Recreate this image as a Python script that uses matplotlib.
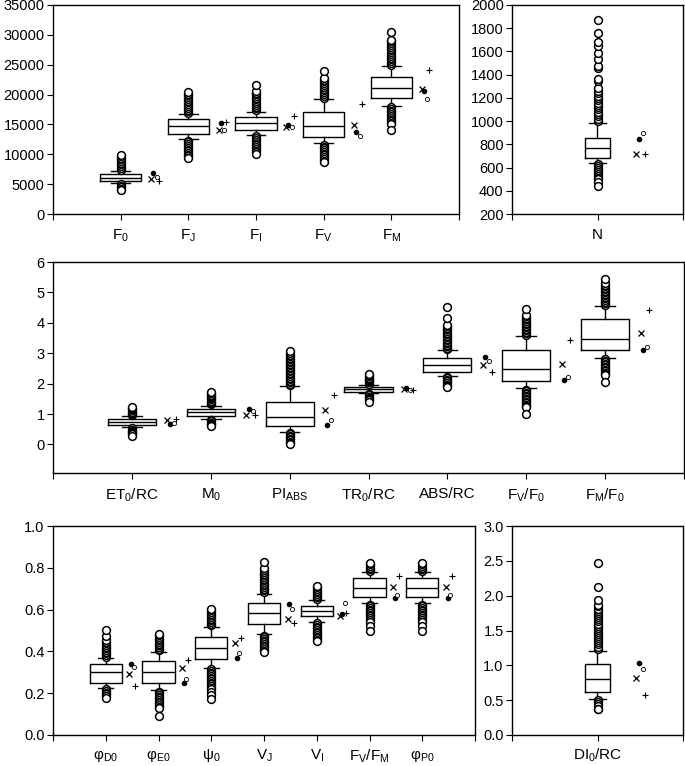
import matplotlib
matplotlib.use('Agg')
import matplotlib.pyplot as plt

plt.rcParams['font.family'] = ['Liberation Sans', 'DejaVu Sans']
plt.rcParams['mathtext.default'] = 'regular'

# ---- top left: fluorescence levels
fl_labels = ['F$_0$', 'F$_J$', 'F$_I$', 'F$_V$', 'F$_M$']
fl_q1 = [5556, 13444, 14000, 12889, 19444]
fl_med = [6111, 14667, 15167, 14778, 21056]
fl_q3 = [6778, 15833, 16167, 17111, 22944]
fl_wlo = [5111, 12611, 13222, 11833, 18167]
fl_whi = [7222, 16667, 17111, 19278, 24722]
fl_out_hi = [
    [7400, 7700, 8000, 8300, 8600, 8900, 9150, 9400, 9650, 9850],
    [16900, 17200, 17500, 17800, 18100, 18400, 18700, 19000, 19300, 19600, 19850, 20100, 20350],
    [17400, 17700, 18000, 18300, 18600, 18900, 19200, 19500, 19800, 20050, 20300, 20550, 21650],
    [19500, 19800, 20100, 20400, 20700, 21000, 21300, 21600, 21900, 22200, 22500, 22800, 23900],
    [25000, 25300, 25600, 25900, 26200, 26500, 26800, 27100, 27400, 27700, 28000, 28300, 28600, 28900, 29150, 30400],
]
fl_out_lo = [
    [5000, 4750, 4500, 4250, 4000],
    [12300, 12000, 11700, 11400, 11100, 10800, 10500, 10200, 9900, 9700, 9450],
    [13000, 12700, 12400, 12100, 11800, 11500, 11200, 10900, 10600, 10300, 10050],
    [11600, 11300, 11000, 10700, 10400, 10100, 9800, 9500, 9200, 8950, 8780],
    [17900, 17600, 17300, 17000, 16700, 16400, 16100, 15800, 15500, 15250, 15000, 14050],
]
fl_x = [5944, 14000, 14556, 14944, 20944]
fl_dot = [6833, 15222, 14944, 13778, 20611]
fl_o = [6222, 14000, 14611, 13056, 19333]
fl_plus = [5556, 15389, 16444, 18444, 24056]

# ---- top right: N
n_labels = ['N']
n_q1 = [680]
n_med = [766]
n_q3 = [851]
n_wlo = [643]
n_whi = [986]
n_out_hi = [[1000, 1020, 1040, 1060, 1080, 1100, 1120, 1140, 1160, 1180, 1200, 1220, 1240, 1260, 1285,
             1343, 1363, 1457, 1471, 1534, 1586, 1643, 1680, 1757, 1871]]
n_out_lo = [[630, 612, 595, 578, 561, 544, 527, 510, 500, 474, 445]]
n_x = [720]
n_dot = [843]
n_o = [894]
n_plus = [717]

# ---- middle: specific fluxes
sf_labels = ['ET$_0$/RC', 'M$_0$', 'PI$_{ABS}$', 'TR$_0$/RC', 'ABS/RC', 'F$_V$/F$_0$', 'F$_M$/F$_0$']
sf_q1 = [0.65, 0.94, 0.60, 1.74, 2.38, 2.09, 3.09]
sf_med = [0.73, 1.07, 0.90, 1.81, 2.62, 2.47, 3.46]
sf_q3 = [0.84, 1.18, 1.41, 1.89, 2.85, 3.10, 4.11]
sf_wlo = [0.57, 0.84, 0.42, 1.69, 2.26, 1.84, 2.84]
sf_whi = [0.92, 1.28, 1.92, 1.96, 3.09, 3.57, 4.56]
sf_out_hi = [
    [0.96, 1.0, 1.04, 1.08, 1.12, 1.16, 1.2, 1.24],
    [1.32, 1.36, 1.40, 1.44, 1.48, 1.52, 1.56, 1.60, 1.64, 1.68, 1.73],
    [1.96, 2.0, 2.05, 2.1, 2.15, 2.2, 2.25, 2.3, 2.35, 2.4, 2.45, 2.5, 2.55, 2.6, 2.65, 2.7, 2.75,
     2.8, 2.85, 2.9, 2.95, 3.0, 3.06],
    [2.0, 2.04, 2.08, 2.12, 2.16, 2.2, 2.24, 2.28, 2.32],
    [3.13, 3.18, 3.23, 3.28, 3.33, 3.38, 3.43, 3.48, 3.53, 3.58, 3.63, 3.68, 3.73, 3.78, 3.83, 3.88,
     3.92, 4.16, 4.53],
    [3.61, 3.66, 3.71, 3.76, 3.81, 3.86, 3.91, 3.96, 4.01, 4.06, 4.11, 4.16, 4.21, 4.27, 4.44],
    [4.60, 4.65, 4.70, 4.75, 4.80, 4.85, 4.90, 4.95, 5.00, 5.05, 5.10, 5.15, 5.20, 5.25, 5.31, 5.44],
]
sf_out_lo = [
    [0.53, 0.49, 0.45, 0.41, 0.37, 0.33, 0.29],
    [0.80, 0.76, 0.72, 0.68, 0.64, 0.60],
    [0.38, 0.33, 0.28, 0.23, 0.18, 0.13, 0.08, 0.04, 0.01],
    [1.65, 1.61, 1.57, 1.53, 1.49, 1.45, 1.41],
    [2.22, 2.17, 2.12, 2.07, 2.02, 1.97, 1.92, 1.88],
    [1.80, 1.75, 1.70, 1.65, 1.60, 1.55, 1.50, 1.45, 1.40, 1.35, 1.30, 1.25, 1.22, 1.01],
    [2.80, 2.75, 2.70, 2.65, 2.60, 2.55, 2.50, 2.45, 2.40, 2.35, 2.30, 2.27, 2.04],
]
sf_x = [0.79, 0.98, 1.14, 1.82, 2.62, 2.65, 3.65]
sf_dot = [0.67, 1.17, 0.63, 1.86, 2.89, 2.11, 3.10]
sf_o = [0.70, 1.11, 0.81, 1.80, 2.73, 2.21, 3.21]
sf_plus = [0.83, 0.96, 1.62, 1.79, 2.38, 3.42, 4.43]

# ---- bottom left: quantum yields
qy_labels = ['φ$_{D0}$', 'φ$_{E0}$', 'ψ$_0$', 'V$_J$', 'V$_I$', 'F$_V$/F$_M$', 'φ$_{P0}$']
qy_q1 = [0.250, 0.250, 0.363, 0.529, 0.569, 0.660, 0.660]
qy_med = [0.300, 0.300, 0.418, 0.582, 0.591, 0.701, 0.701]
qy_q3 = [0.339, 0.354, 0.467, 0.633, 0.617, 0.749, 0.749]
qy_wlo = [0.223, 0.215, 0.322, 0.483, 0.542, 0.630, 0.630]
qy_whi = [0.370, 0.398, 0.518, 0.677, 0.644, 0.778, 0.778]
qy_out_hi = [
    [0.375, 0.383, 0.391, 0.399, 0.407, 0.415, 0.423, 0.431, 0.439, 0.446, 0.454, 0.475, 0.502],
    [0.405, 0.413, 0.421, 0.429, 0.437, 0.445, 0.453, 0.461, 0.469, 0.477, 0.485],
    [0.525, 0.533, 0.541, 0.549, 0.557, 0.565, 0.573, 0.581, 0.589, 0.596, 0.602],
    [0.684, 0.692, 0.700, 0.708, 0.716, 0.724, 0.732, 0.740, 0.748, 0.756, 0.764, 0.772, 0.780,
     0.788, 0.797, 0.829],
    [0.651, 0.659, 0.667, 0.675, 0.683, 0.691, 0.699, 0.706, 0.712],
    [0.784, 0.792, 0.800, 0.808, 0.816, 0.824],
    [0.784, 0.792, 0.800, 0.808, 0.816, 0.824],
]
qy_out_lo = [
    [0.218, 0.210, 0.202, 0.194, 0.186, 0.179],
    [0.208, 0.200, 0.192, 0.184, 0.176, 0.168, 0.160, 0.152, 0.144, 0.136, 0.128, 0.092],
    [0.314, 0.306, 0.298, 0.290, 0.282, 0.274, 0.266, 0.258, 0.250, 0.242, 0.234, 0.226, 0.218,
     0.207, 0.190, 0.172],
    [0.476, 0.468, 0.460, 0.452, 0.444, 0.436, 0.428, 0.420, 0.412, 0.404, 0.398],
    [0.535, 0.527, 0.519, 0.511, 0.503, 0.495, 0.487, 0.479, 0.471, 0.463, 0.456, 0.449],
    [0.623, 0.615, 0.607, 0.599, 0.591, 0.583, 0.575, 0.567, 0.559, 0.551, 0.542, 0.521, 0.500],
    [0.623, 0.615, 0.607, 0.599, 0.591, 0.583, 0.575, 0.567, 0.559, 0.551, 0.542, 0.521, 0.500],
]
qy_x = [0.290, 0.320, 0.441, 0.555, 0.569, 0.706, 0.706]
qy_dot = [0.338, 0.250, 0.367, 0.625, 0.577, 0.657, 0.657]
qy_o = [0.327, 0.270, 0.392, 0.602, 0.633, 0.669, 0.669]
qy_plus = [0.236, 0.360, 0.462, 0.534, 0.585, 0.763, 0.763]

# ---- bottom right: DI0/RC
di_labels = ['DI$_0$/RC']
di_q1 = [0.615]
di_med = [0.806]
di_q3 = [1.02]
di_wlo = [0.52]
di_whi = [1.21]
di_out_hi = [[1.24, 1.27, 1.30, 1.33, 1.36, 1.39, 1.42, 1.45, 1.48, 1.51, 1.54, 1.57, 1.60, 1.63,
              1.66, 1.69, 1.72, 1.75, 1.78, 1.81, 1.85, 1.87, 1.94, 2.13, 2.465]]
di_out_lo = [[0.50, 0.47, 0.44, 0.41, 0.38, 0.37]]
di_x = [0.82]
di_dot = [1.035]
di_o = [0.954]
di_plus = [0.58]


def panel(ax, labels, q1, med, q3, wlo, whi, out_hi, out_lo, mx, mdot, mo, mplus,
          ylim, yticks, fmt, width, capw, labpad):
    n = len(labels)
    pos = list(range(1, n + 1))
    st = []
    for i in range(n):
        st.append(dict(med=med[i], q1=q1[i], q3=q3[i], whislo=wlo[i], whishi=whi[i],
                       fliers=out_hi[i] + out_lo[i]))
    line = dict(color='black', linewidth=1.0)
    ax.bxp(st, positions=pos, widths=width, capwidths=capw, manage_ticks=False,
           boxprops=line, whiskerprops=line, capprops=line,
           medianprops=dict(color='black', linewidth=1.0),
           flierprops=dict(marker='o', markersize=5.6, markerfacecolor='white',
                           markeredgecolor='black', markeredgewidth=1.1, linestyle='none'))
    # summary markers beside each box
    ax.plot([p + 0.45 for p in pos], mx, ls='none', marker='x', ms=4.2,
            mew=0.9, color='black')
    ax.plot([p + 0.48 for p in pos], mdot, ls='none', marker='o', ms=3.0,
            color='black')
    ax.plot([p + 0.53 for p in pos], mo, ls='none', marker='o', ms=3.0,
            mfc='white', mec='black', mew=0.6)
    ax.plot([p + 0.56 for p in pos], mplus, ls='none', marker='+', ms=4.0,
            mew=0.8, color='black')
    ax.set_xlim(0, n + 1)
    ax.set_ylim(*ylim)
    ax.set_xticks([0] + pos + [n + 1])
    ax.set_xticklabels([''] + labels + [''], fontsize=11)
    ax.set_yticks(yticks)
    ax.set_yticklabels([fmt % v for v in yticks], fontsize=10.5)
    ax.tick_params(axis='x', direction='out', length=4, pad=labpad)
    ax.tick_params(axis='y', direction='out', length=4, pad=2)
    for s in ax.spines.values():
        s.set_linewidth(1.0)


fig = plt.figure(figsize=(6.85, 7.66), dpi=100)
W, H = 685.0, 766.0


def add_ax(x0, y0, x1, y1):
    return fig.add_axes([x0 / W, 1 - y1 / H, (x1 - x0) / W, (y1 - y0) / H])


ax1 = add_ax(53, 5, 459, 214)
panel(ax1, fl_labels, fl_q1, fl_med, fl_q3, fl_wlo, fl_whi, fl_out_hi, fl_out_lo,
      fl_x, fl_dot, fl_o, fl_plus, (0, 35000), list(range(0, 35001, 5000)), '%d',
      0.61, 0.28, 6)

ax2 = add_ax(512, 5, 683, 214)
panel(ax2, n_labels, n_q1, n_med, n_q3, n_wlo, n_whi, n_out_hi, n_out_lo,
      n_x, n_dot, n_o, n_plus, (200, 2000), list(range(200, 2001, 200)), '%d',
      0.30, 0.20, 6)

ax3 = add_ax(53, 262, 684, 473)
panel(ax3, sf_labels, sf_q1, sf_med, sf_q3, sf_wlo, sf_whi, sf_out_hi, sf_out_lo,
      sf_x, sf_dot, sf_o, sf_plus, (-0.94, 6), [0, 1, 2, 3, 4, 5, 6], '%d',
      0.61, 0.25, 6)

ax4 = add_ax(53, 526, 475, 735)
panel(ax4, qy_labels, qy_q1, qy_med, qy_q3, qy_wlo, qy_whi, qy_out_hi, qy_out_lo,
      qy_x, qy_dot, qy_o, qy_plus, (0, 1.0), [0.0, 0.2, 0.4, 0.6, 0.8, 1.0], '%.1f',
      0.61, 0.28, 5)

ax5 = add_ax(512, 526, 683, 735)
panel(ax5, di_labels, di_q1, di_med, di_q3, di_wlo, di_whi, di_out_hi, di_out_lo,
      di_x, di_dot, di_o, di_plus, (0, 3.0), [0.0, 0.5, 1.0, 1.5, 2.0, 2.5, 3.0], '%.1f',
      0.30, 0.20, 4)

fig.savefig('out.png', dpi=100)
